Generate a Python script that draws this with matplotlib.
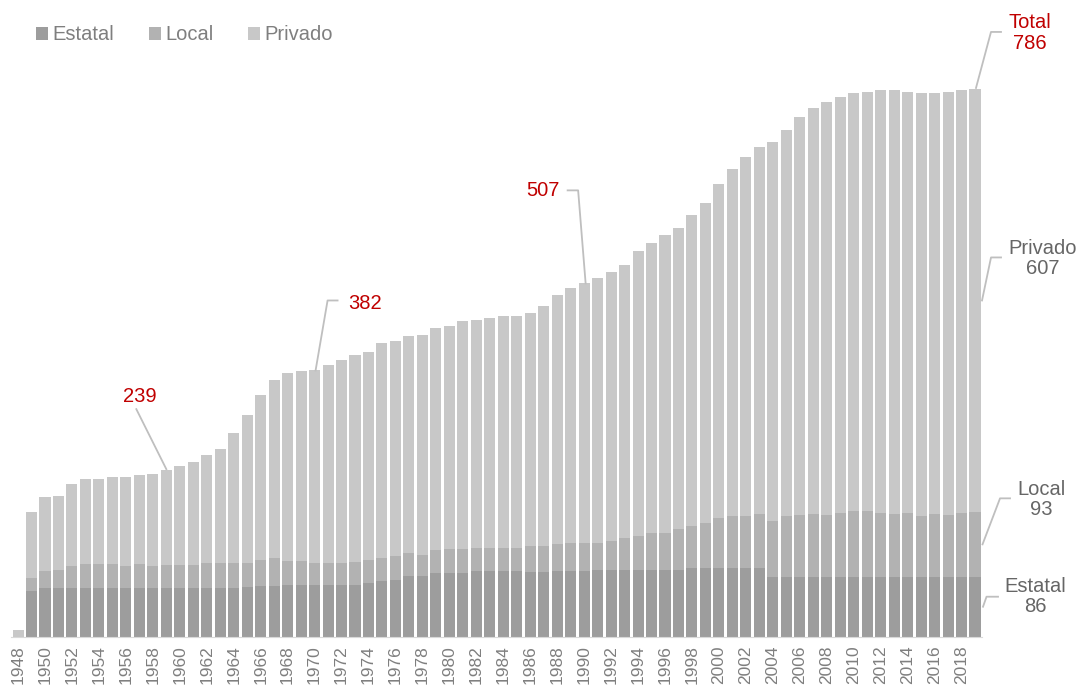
import numpy as np
import matplotlib
matplotlib.use('Agg')
import matplotlib.pyplot as plt
from matplotlib.transforms import ScaledTranslation

plt.rcParams['font.family'] = ['Liberation Sans', 'DejaVu Sans']

years = list(range(1948, 2020))

estatal = [0, 66, 70, 70, 70, 70, 70, 70, 70, 70, 70, 70, 70, 70, 70, 70, 70,
           72, 73, 73, 74, 74, 74, 74, 74, 74, 77, 80, 82, 87, 87, 91, 91, 91,
           94, 94, 94, 94, 93, 93, 94, 94, 94, 96, 96, 96, 96, 96, 96, 96, 99,
           99, 99, 99, 99, 99, 86, 86, 86, 86, 85, 85, 85, 85, 85, 85, 85, 85,
           85, 85, 85, 86]
local = [0, 18, 24, 26, 32, 35, 35, 35, 32, 35, 32, 33, 33, 33, 36, 36, 36,
         34, 37, 40, 34, 34, 32, 32, 32, 33, 33, 33, 34, 33, 30, 33, 35, 35,
         33, 33, 33, 33, 37, 37, 39, 40, 40, 38, 41, 46, 48, 53, 53, 58, 60,
         64, 71, 74, 74, 77, 80, 87, 89, 90, 90, 92, 95, 95, 92, 91, 92, 88,
         91, 90, 92, 93]
privado = [9, 95, 106, 106, 117, 121, 121, 124, 127, 127, 131, 136, 142, 148,
           155, 163, 186, 212, 237, 255, 270, 273, 276, 284, 291, 297, 298,
           308, 308, 311, 316, 319, 320, 327, 327, 330, 333, 333, 334, 344,
           358, 366, 373, 380, 387, 392, 409, 416, 428, 433, 446, 460, 479,
           498, 515, 526, 544, 554, 571, 582, 592, 597, 600, 601, 607, 608,
           604, 607, 604, 606, 607, 607]

c_est = '#9d9d9d'
c_loc = '#b2b2b2'
c_pri = '#c8c8c8'
c_red = '#c00000'
c_txt = '#7f7f7f'
c_line = '#bfbfbf'
fs = 14.5

estatal = np.array(estatal)
local = np.array(local)
privado = np.array(privado)
total = estatal + local + privado
x = np.arange(len(years))

fig = plt.figure(figsize=(10.78, 6.86), dpi=100)
ax = fig.add_axes([0.0105, 0.0719, 0.9002, 0.899])

w = 0.82
b1 = ax.bar(x, estatal, w, color=c_est, label='Estatal')
b2 = ax.bar(x, local, w, bottom=estatal, color=c_loc, label='Local')
b3 = ax.bar(x, privado, w, bottom=estatal + local, color=c_pri, label='Privado')

ax.set_xlim(-0.5, len(years) - 0.5)
ax.set_ylim(0, 885)
for s in ['top', 'right', 'left']:
    ax.spines[s].set_visible(False)
ax.spines['bottom'].set_color('#d9d9d9')
ax.set_yticks([])
tick_idx = [i for i, y in enumerate(years) if y % 2 == 0]
ax.set_xticks(tick_idx)
ax.set_xticklabels([str(years[i]) for i in tick_idx], rotation=90,
                   fontsize=12.5, color=c_txt)
ax.tick_params(axis='x', length=0, pad=6)

fig.canvas.draw()


def off(dx, dy):
    # offset in pixels (dpi 100) from a data point
    return ax.transData + ScaledTranslation(dx / 100, dy / 100, fig.dpi_scale_trans)


def leader(xd, yd, pts, text, tdx, tdy, color, ha='center'):
    disp = ax.transData.transform((xd, yd))
    px = disp[0] + np.array([p[0] for p in pts])
    py = disp[1] + np.array([p[1] for p in pts])
    ax.plot(px, py, color=c_line, lw=1.3, clip_on=False, transform=None)
    ax.text(xd, yd, text, transform=off(tdx, tdy), ha=ha, va='center',
            fontsize=fs, color=color, linespacing=1.1)


# red labels
i = years.index(1959)
leader(i, total[i], [(0, 1), (-30, 61)], '239', -27, 74, c_red)
i = years.index(1970)
leader(i, total[i], [(1, 0), (13, 70), (23, 70)], '382', 34, 67, c_red, ha='left')
i = years.index(1990)
leader(i, total[i], [(1.5, 0), (-6, 93), (-16.5, 93)], '507', -25, 93, c_red, ha='right')
i = len(years) - 1
leader(i, total[i], [(1, 1), (16, 57), (26, 57)], 'Total\n%d' % total[i], 55, 56, c_red)

# right side labels
xr = i + w / 2
leader(xr, estatal[i] + local[i] + privado[i] / 2, [(1.5, 0), (10.5, 43), (20.5, 43)],
       'Privado\n%d' % privado[i], 62, 42, '#666666')
leader(xr, estatal[i] + local[i] / 2, [(2, 0), (19.5, 46), (29.5, 46)],
       'Local\n%d' % local[i], 61, 45, '#666666')
leader(xr, estatal[i] / 2, [(2.5, 0), (6, 10), (17.5, 10)],
       'Estatal\n%d' % estatal[i], 55, 10, '#666666')

leg = fig.legend(handles=[b1, b2, b3], loc='center left',
                 bbox_to_anchor=(36 / 1078, 1 - 35 / 686), ncol=3,
                 frameon=False, fontsize=fs, handlelength=0.6,
                 handleheight=0.6, handletextpad=0.2, columnspacing=1.74,
                 borderpad=0, borderaxespad=0)
for t in leg.get_texts():
    t.set_color(c_txt)

fig.savefig('out.png', dpi=100)
